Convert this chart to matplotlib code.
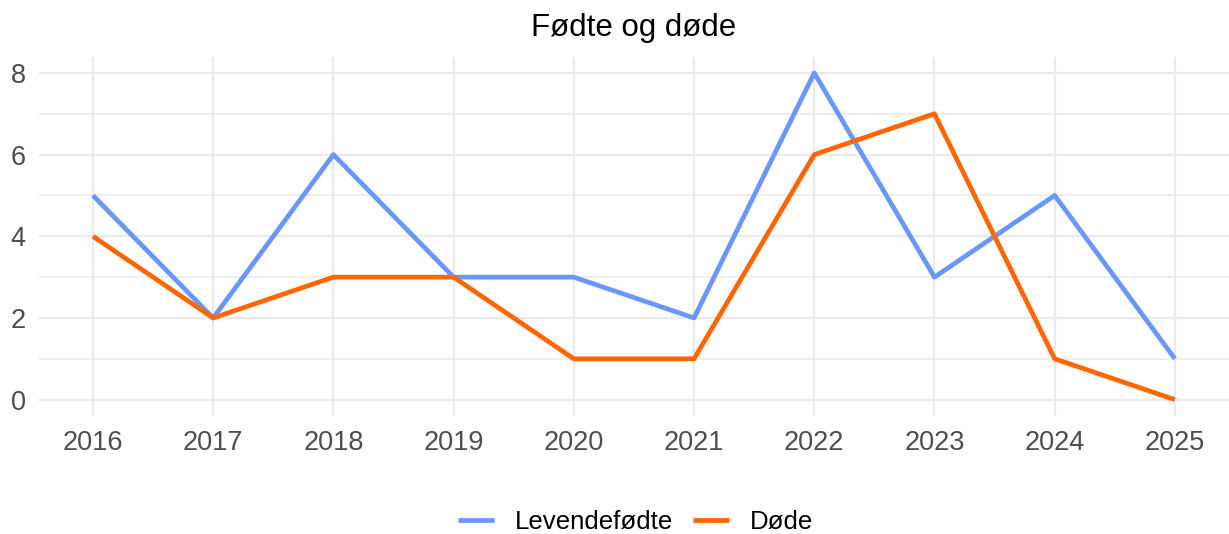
import matplotlib.pyplot as plt
from matplotlib.ticker import MultipleLocator

plt.rcParams['font.family'] = ['Liberation Sans', 'DejaVu Sans']

# data
years = [2016, 2017, 2018, 2019, 2020, 2021, 2022, 2023, 2024, 2025]
levendefodte = [5, 2, 6, 3, 3, 2, 8, 3, 5, 1]
dode = [4, 2, 3, 3, 1, 1, 6, 7, 1, 0]

blue = '#6A96FF'
orange = '#FF6600'
grid_col = '#EBEBEB'

fig = plt.figure(figsize=(12.29, 5.34), dpi=100)
ax = fig.add_axes([0.0316, 0.221, 0.9684, 0.673])

ax.plot(years, levendefodte, color=blue, linewidth=3.4, label='Levendefødte', solid_capstyle='butt', zorder=3)
ax.plot(years, dode, color=orange, linewidth=3.4, label='Døde', solid_capstyle='butt', zorder=3)

ax.set_xlim(2015.55, 2025.45)
ax.set_ylim(-0.4, 8.4)
ax.set_xticks(years)
ax.yaxis.set_major_locator(MultipleLocator(2))
ax.yaxis.set_minor_locator(MultipleLocator(1))

ax.grid(True, which='major', color=grid_col, linewidth=1.6)
ax.grid(True, which='minor', axis='y', color=grid_col, linewidth=1.2)
ax.set_axisbelow(True)
for s in ax.spines.values():
    s.set_visible(False)
ax.tick_params(which='both', length=0, labelsize=19.5, colors='#4D4D4D')
ax.tick_params(axis='x', pad=10)
ax.tick_params(axis='y', pad=9.5)

# title centred over the panel
ax.set_title('Fødte og døde', fontsize=22.5, color='black', pad=15)
fig.legend(loc='center', bbox_to_anchor=(0.517, 0.022), ncol=2, frameon=False,
           fontsize=18.6, handlelength=1.4, columnspacing=0.75, handletextpad=0.8)

fig.savefig('out.png', dpi=100)
